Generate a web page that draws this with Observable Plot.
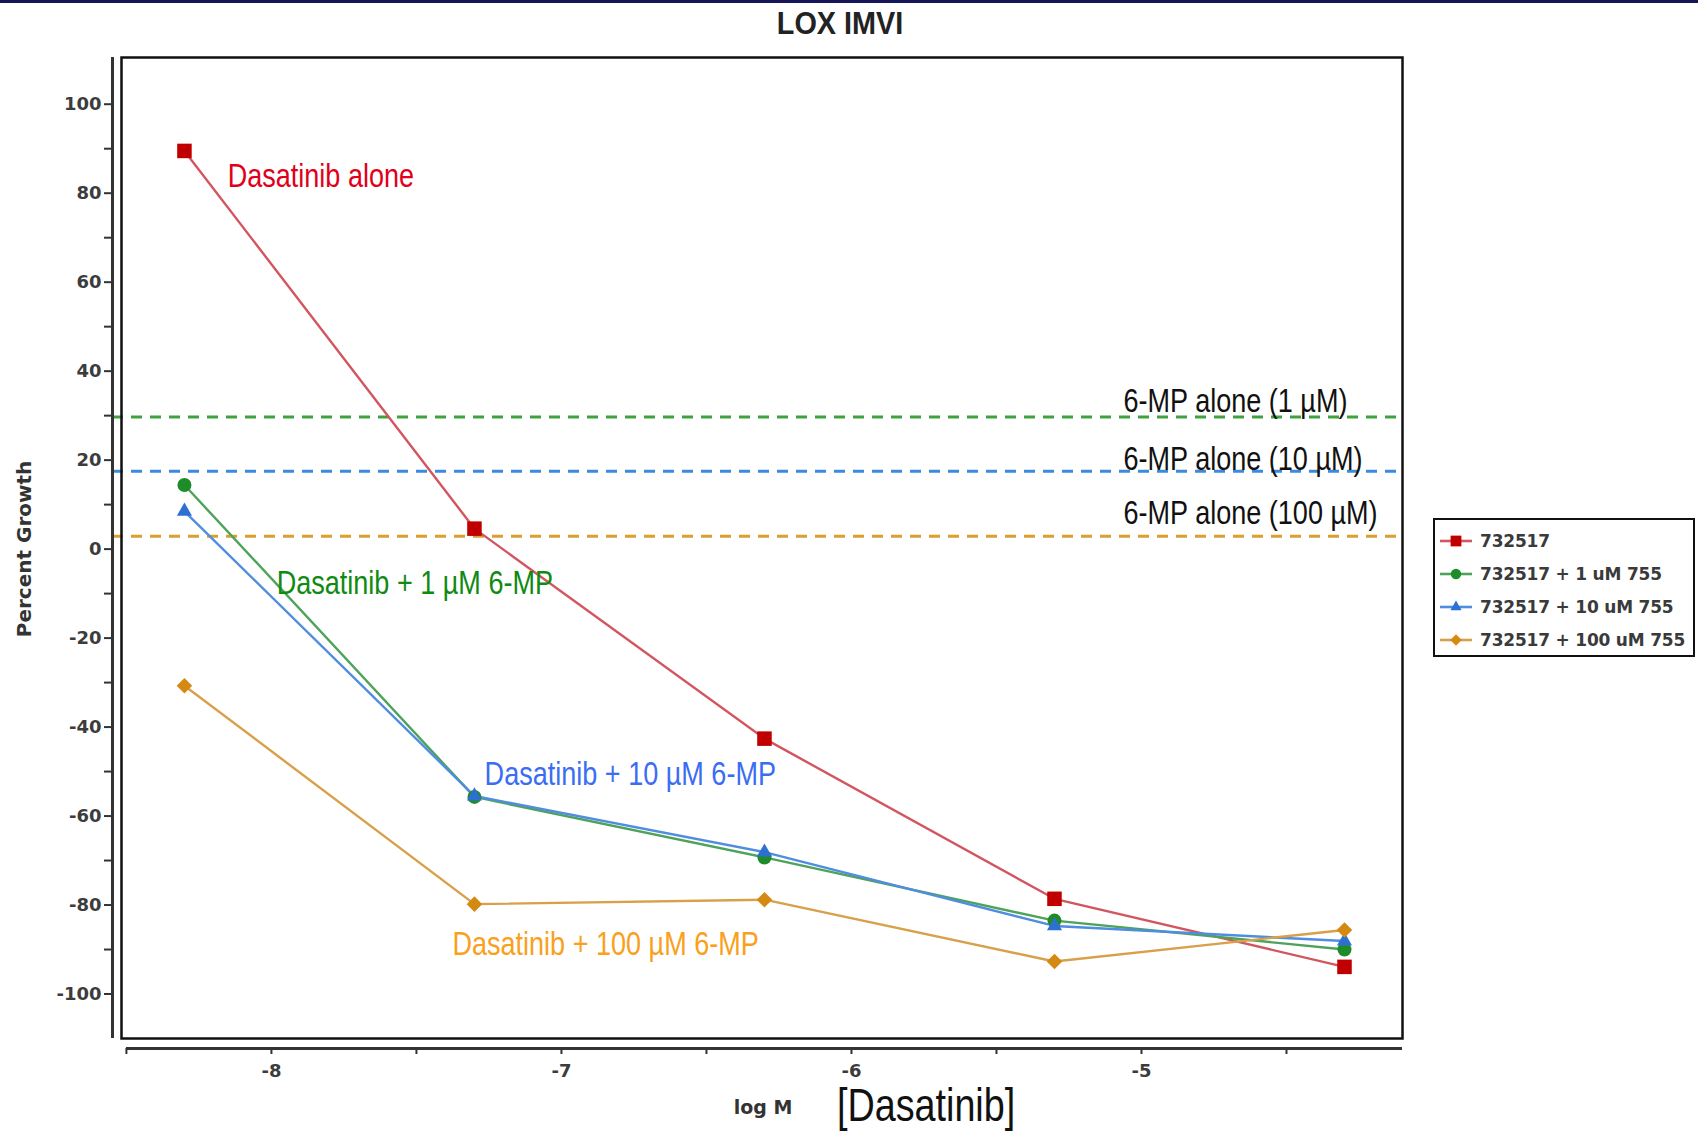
<!DOCTYPE html>
<html>
<head>
<meta charset="utf-8">
<script src="https://cdn.jsdelivr.net/npm/d3@7"></script>
<script src="https://cdn.jsdelivr.net/npm/@observablehq/plot@0.6"></script>
<style>
  body { margin: 0; background: #fff; }
  #wrap { position: relative; width: 1698px; height: 1131px; overflow: hidden; background: #fff; }
  #topbar { position: absolute; left: 0; top: 0; width: 1698px; height: 3px; background: #15155a; }
  .lbl { position: absolute; white-space: nowrap; }
  #title { left: 840px; top: 23px; transform: translate(-50%, -50%) scaleX(0.9); font: bold 32px "Liberation Sans", Arial, sans-serif; color: #222; }
  #ylab { left: 24px; top: 549px; transform: translate(-50%, -50%) rotate(-90deg); font: bold 20px "DejaVu Sans", sans-serif; color: #333; }
  #xlab1 { left: 763px; top: 1107px; transform: translate(-50%, -50%); font: bold 19px "DejaVu Sans", sans-serif; color: #333; }
  #xlab2 { left: 837px; top: 1105px; transform: translate(0, -50%) scaleX(0.82); transform-origin: 0 50%; font: 46px "Liberation Sans", Arial, sans-serif; color: #111; }
  #legend { position: absolute; left: 1433px; top: 518px; width: 262px; height: 139px; border: 2px solid #111; background: #fff; padding-top: 4px; box-sizing: border-box; }
  .row { display: flex; align-items: center; height: 33px; }
  .row svg { margin-left: 4px; margin-right: 7px; }
  .row span { font: bold 17px "DejaVu Sans", sans-serif; color: #3a3a3a; letter-spacing: -0.2px; }
</style>
</head>
<body>
<div id="wrap">
  <div id="chart"></div>
  <div id="topbar"></div>
  <div class="lbl" id="title">LOX IMVI</div>
  <div class="lbl" id="ylab">Percent Growth</div>
  <div class="lbl" id="xlab1">log M</div>
  <div class="lbl" id="xlab2">[Dasatinib]</div>
  <div id="legend"></div>
</div>
<script>
// ---- data ----
const logConc = [-8.3, -7.3, -6.3, -5.3, -4.3];
const dasatinibAlone = [89.5, 4.6, -42.6, -78.6, -93.9];
const plus1uM = [14.4, -55.7, -69.3, -83.5, -90.0];
const plus10uM = [8.5, -55.5, -68.1, -84.7, -88.1];
const plus100uM = [-30.7, -79.8, -78.8, -92.7, -85.6];
const seriesNames = ["732517", "732517 + 1 uM 755", "732517 + 10 uM 755", "732517 + 100 uM 755"];
const mpAloneLevels = [29.7, 17.5, 2.9];
const mpAloneLabels = ["6-MP alone (1 µM)", "6-MP alone (10 µM)", "6-MP alone (100 µM)"];
const annoText = ["Dasatinib alone", "Dasatinib + 1 µM 6-MP", "Dasatinib + 10 µM 6-MP", "Dasatinib + 100 µM 6-MP",
                  "6-MP alone (1 µM)", "6-MP alone (10 µM)", "6-MP alone (100 µM)"];
const annoX = [-8.151, -7.982, -7.265, -7.376, -5.062, -5.062, -5.062];
const annoY = [83.8, -7.6, -50.6, -88.8, 33.3, 20.2, 8.1];
const yTicks = [-100, -80, -60, -40, -20, 0, 20, 40, 60, 80, 100];
const yMinorTicks = [-90, -70, -50, -30, -10, 10, 30, 50, 70, 90];
const xTicks = [-8, -7, -6, -5];
const xMinorTicks = [-8.5, -7.5, -6.5, -5.5, -4.5];

// ---- styles ----
const markerColors = ["#c00000", "#1f8c2a", "#2e6fd2", "#d48a12"];
const lineColors = ["#d2555f", "#4ea35a", "#4f8de0", "#d9a04a"];
const dashColors = ["#3ea23e", "#3b8ae0", "#d9a030"];
const annoColors = ["#e0001b", "#0f8a12", "#3a6df2", "#f9a01c", "#111", "#111", "#111"];
const xDomain = [-8.517, -4.1];
const yDomain = [-110, 110.5];

const allSeries = [dasatinibAlone, plus1uM, plus10uM, plus100uM];
const annos = annoText.map((t, i) => ({t, x: annoX[i], y: annoY[i], c: annoColors[i]}));

// rotated square marker
const rotSquare = {
  draw(ctx, size) {
    const h = Math.sqrt(size / 2);
    ctx.moveTo(0, -h); ctx.lineTo(h, 0); ctx.lineTo(0, h); ctx.lineTo(-h, 0); ctx.closePath();
  }
};
const symFor = [d3.symbolSquare, d3.symbolCircle, d3.symbolTriangle, rotSquare];
const rFor = [8.2, 7, 5.6, 6.2];

const marks = [];
// 6-MP alone dashed reference lines
mpAloneLevels.forEach((lv, i) => {
  marks.push(Plot.ruleY([lv], {x1: xDomain[0] - 0.031, x2: xDomain[1], stroke: dashColors[i], strokeWidth: 3, strokeDasharray: "11,8"}));
});
// series lines
allSeries.forEach((vals, i) => {
  marks.push(Plot.line(logConc.map((x, j) => ({x, y: vals[j]})), {x: "x", y: "y", stroke: lineColors[i], strokeWidth: 2.4}));
});
// markers
allSeries.forEach((vals, i) => {
  marks.push(Plot.dot(logConc.map((x, j) => ({x, y: vals[j]})), {x: "x", y: "y", symbol: () => symFor[i], r: rFor[i], fill: markerColors[i], stroke: "none"}));
});
// annotations
marks.push(Plot.text(annos, {x: "x", y: "y", text: "t", fill: "c", textAnchor: "start", lineAnchor: "middle",
  fontSize: 33, fontFamily: "'Liberation Sans', Arial, sans-serif", className: "anno"}));
// frame
marks.push(Plot.frame({stroke: "#111", strokeWidth: 2.5}));
// y axis (offset from frame)
marks.push(Plot.ruleX([xDomain[0]], {y1: yDomain[0], y2: yDomain[1], dx: -9, stroke: "#333", strokeWidth: 3}));
marks.push(Plot.axisY(yTicks, {anchor: "left", label: null, tickSize: 8, tickPadding: 3, dx: -9, tickFormat: d => String(d),
  fontSize: 18, fontWeight: "bold", fontFamily: "DejaVu Sans, sans-serif", fill: "#3c3c3c", stroke: "#333", strokeWidth: 2}));
marks.push(Plot.axisY(yMinorTicks, {anchor: "left", label: null, tickSize: 8, dx: -9, tickFormat: () => "", stroke: "#333", strokeWidth: 2}));
// x axis (offset from frame)
marks.push(Plot.ruleY([yDomain[0]], {x1: xMinorTicks[0], x2: xDomain[1], dy: 10, stroke: "#333", strokeWidth: 3}));
marks.push(Plot.axisX(xTicks, {anchor: "bottom", label: null, tickSize: 6, tickPadding: 10, dy: 10, tickFormat: d => String(d),
  fontSize: 18, fontWeight: "bold", fontFamily: "DejaVu Sans, sans-serif", fill: "#3c3c3c", stroke: "#333", strokeWidth: 2}));
marks.push(Plot.axisX(xMinorTicks, {anchor: "bottom", label: null, tickSize: 6, dy: 10, tickFormat: () => "", stroke: "#333", strokeWidth: 2}));

const chart = Plot.plot({
  width: 1698,
  height: 1131,
  marginLeft: 121,
  marginRight: 296,
  marginTop: 57,
  marginBottom: 93,
  x: {domain: xDomain, axis: null, label: null},
  y: {domain: yDomain, axis: null, label: null},
  style: {background: "#fff", overflow: "visible"},
  marks
});
// condense annotation text horizontally (narrow typeface look)
chart.querySelectorAll(".anno text").forEach(t => {
  const tr = t.getAttribute("transform") || "";
  t.setAttribute("transform", tr + " scale(0.82,1)");
});
document.getElementById("chart").appendChild(chart);

// legend
const legend = document.getElementById("legend");
seriesNames.forEach((name, i) => {
  const row = document.createElement("div");
  row.className = "row";
  const sym = d3.symbol(symFor[i], Math.PI * rFor[i] * rFor[i] * 0.55)();
  row.innerHTML = `<svg width="34" height="20" viewBox="-17 -10 34 20">
     <line x1="-16" x2="16" y1="0" y2="0" stroke="${lineColors[i]}" stroke-width="2.6"/>
     <path d="${sym}" fill="${markerColors[i]}"/></svg><span>${name}</span>`;
  legend.appendChild(row);
});
</script>
</body>
</html>
